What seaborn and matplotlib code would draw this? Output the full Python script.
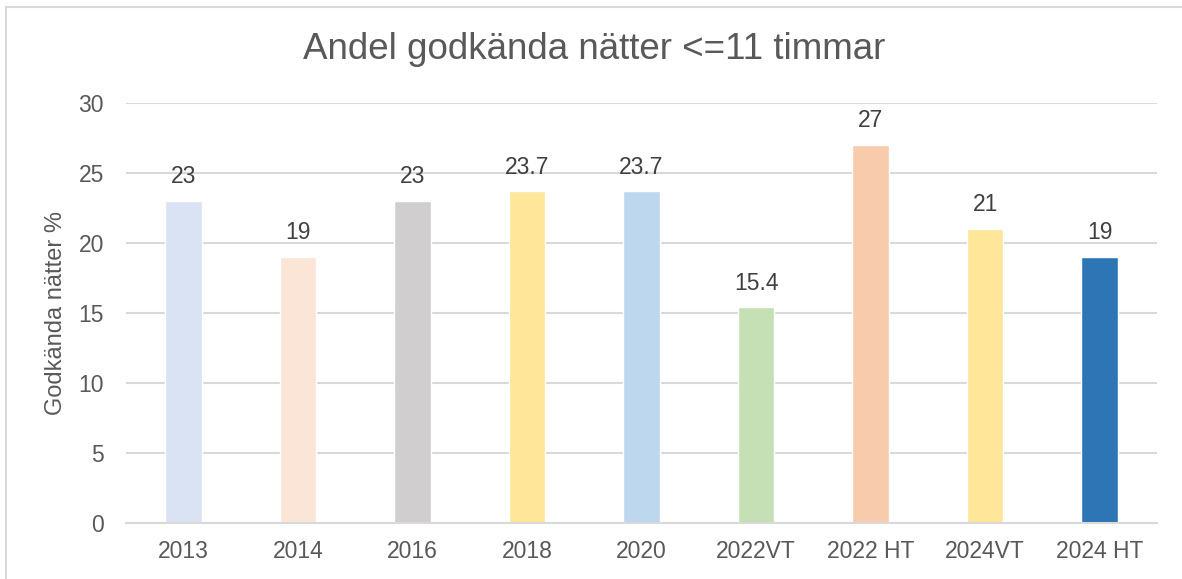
import matplotlib
matplotlib.use("Agg")
import matplotlib.pyplot as plt
import seaborn as sns
import pandas as pd
from matplotlib.patches import Rectangle

categories = ['2013', '2014', '2016', '2018', '2020', '2022VT', '2022 HT', '2024VT', '2024 HT']
values = [23, 19, 23, 23.7, 23.7, 15.4, 27, 21, 19]
labels = ['23', '19', '23', '23.7', '23.7', '15.4', '27', '21', '19']
colors = ['#DAE3F3', '#FBE5D6', '#D0CECE', '#FFE699', '#BDD7EE',
          '#C5E0B4', '#F8CBAD', '#FFE699', '#2E75B6']

text_col = '#595959'
label_col = '#404040'
grid_col = '#D9D9D9'

sns.set_theme(style="white")
plt.rcParams['font.family'] = ['Liberation Sans', 'DejaVu Sans']

df = pd.DataFrame({'cat': categories, 'val': values})

fig = plt.figure(figsize=(11.82, 5.79), dpi=100)
ax = fig.add_axes([126 / 1182, 56 / 579, 1031 / 1182, 420 / 579])

sns.barplot(data=df, x='cat', y='val', hue='cat', palette=colors,
            width=0.32, legend=False, ax=ax, saturation=1)

for cont, lab in zip(ax.containers, labels):
    ax.bar_label(cont, labels=[lab], padding=9, fontsize=16.5, color=label_col)

ax.set_ylim(0, 30)
ax.set_xlim(-0.5, 8.5)
ax.set_yticks(range(0, 31, 5))
ax.yaxis.grid(True, color=grid_col, linewidth=1.5)
ax.set_axisbelow(True)
for s in ['top', 'right', 'left']:
    ax.spines[s].set_visible(False)
ax.spines['bottom'].set_color(grid_col)
ax.spines['bottom'].set_linewidth(1.5)
ax.tick_params(axis='both', length=0, labelsize=16.5, colors=text_col)
ax.tick_params(axis='y', pad=16)
ax.tick_params(axis='x', pad=12)
ax.set_xlabel('')
ax.set_ylabel('Godkända nätter %', fontsize=17, color=text_col)
ax.yaxis.set_label_coords(-0.057, 0.5)

fig.text(0.503, 0.914, 'Andel godkända nätter <=11 timmar', fontsize=26.5,
         color=text_col, ha='center', va='center')

# outer chart border
fig.patches.append(Rectangle((6 / 1182, -0.1), 1.2, (579 - 7) / 579 + 0.1,
                             transform=fig.transFigure, fill=False,
                             edgecolor=grid_col, linewidth=1.5))

fig.savefig('out.png', dpi=100)
